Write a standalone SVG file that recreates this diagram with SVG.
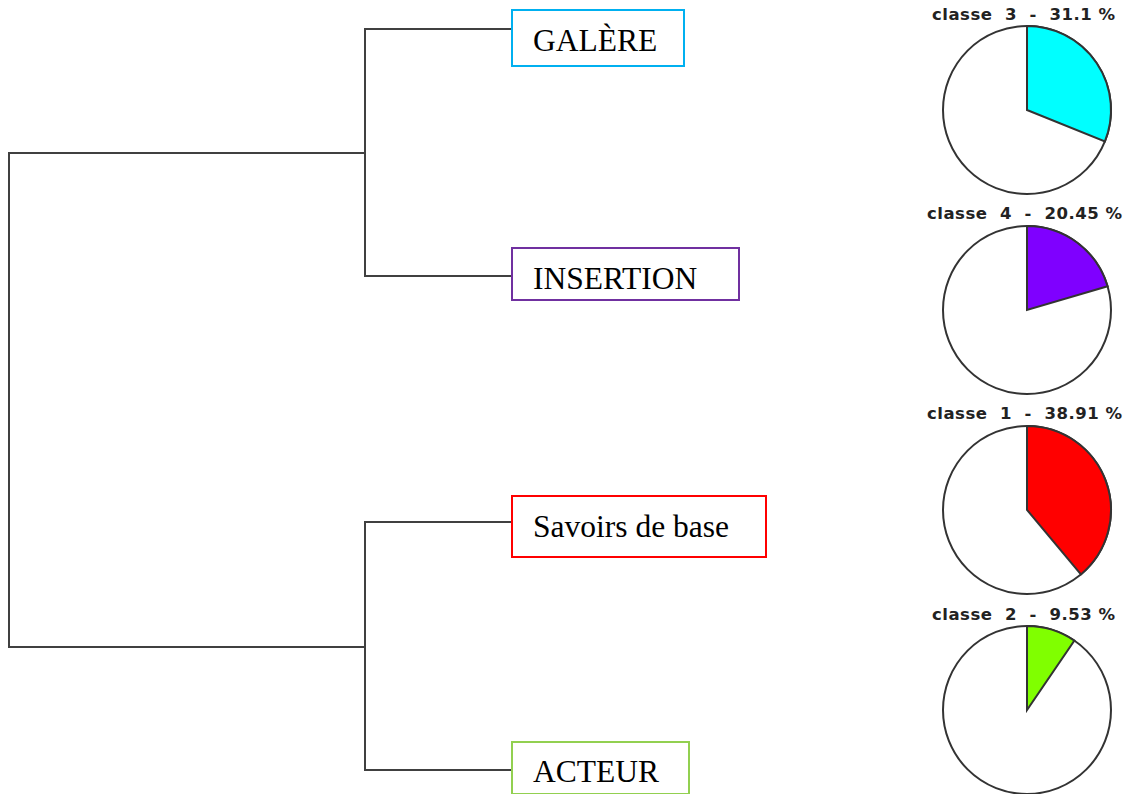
<svg xmlns="http://www.w3.org/2000/svg" width="1127" height="794" viewBox="0 0 1127 794">
<style>
.tree{fill:none;stroke:#404040;stroke-width:2;stroke-linecap:square}
.box{fill:#fff;stroke-width:2}
.lbl{font-family:"Liberation Serif","Times New Roman",serif;font-size:31.5px;fill:#000}
.pie{stroke:#333;stroke-width:2}
.ttl{font-family:"DejaVu Sans",Verdana,sans-serif;font-weight:bold;font-size:16.5px;fill:#222}
</style>
<rect width="1127" height="794" fill="#fff"/>
<g id="connectors">
<path class="tree" d="M9,153 V647 M9,153 H365 M9,647 H365 M365,29 V276 M365,29 H512 M365,276 H512 M365,522 V770 M365,522 H512 M365,770 H512"/>
</g>
<g id="galere">
<rect class="box" x="512" y="10" width="172" height="56" stroke="#00B0F0"/>
<text class="lbl" x="533" y="51">GALÈRE</text>
</g>
<g id="insertion">
<rect class="box" x="512" y="248" width="227" height="52" stroke="#7030A0"/>
<text class="lbl" x="533" y="289">INSERTION</text>
</g>
<g id="savoirs">
<rect class="box" x="512" y="496" width="254" height="61" stroke="#FF0000"/>
<text class="lbl" x="533" y="537">Savoirs de base</text>
</g>
<g id="acteur">
<rect class="box" x="512" y="742" width="177" height="52" stroke="#92D050"/>
<text class="lbl" x="533" y="782">ACTEUR</text>
</g>
<g id="pie3">
<text class="ttl" x="932" y="20" textLength="183" lengthAdjust="spacing" xml:space="preserve">classe  3  -  31.1 %</text>
<circle class="pie" cx="1027" cy="110" r="84" fill="#fff"/>
<path class="pie" d="M1027,110 V26 A84,84 0 0 1 1104.9,141.4 Z" fill="#00FFFF"/>
</g>
<g id="pie4">
<text class="ttl" x="927" y="219" textLength="195" lengthAdjust="spacing" xml:space="preserve">classe  4  -  20.45 %</text>
<circle class="pie" cx="1027" cy="310" r="84" fill="#fff"/>
<path class="pie" d="M1027,310 V226 A84,84 0 0 1 1107.6,286.3 Z" fill="#7F00FF"/>
</g>
<g id="pie1">
<text class="ttl" x="927" y="419" textLength="195" lengthAdjust="spacing" xml:space="preserve">classe  1  -  38.91 %</text>
<circle class="pie" cx="1027" cy="510" r="84" fill="#fff"/>
<path class="pie" d="M1027,510 V426 A84,84 0 0 1 1080.9,574.4 Z" fill="#FF0000"/>
</g>
<g id="pie2">
<text class="ttl" x="932" y="620" textLength="183" lengthAdjust="spacing" xml:space="preserve">classe  2  -  9.53 %</text>
<circle class="pie" cx="1027" cy="710" r="84" fill="#fff"/>
<path class="pie" d="M1027,710 V626 A84,84 0 0 1 1074.4,640.6 Z" fill="#80FF00"/>
</g>
</svg>
